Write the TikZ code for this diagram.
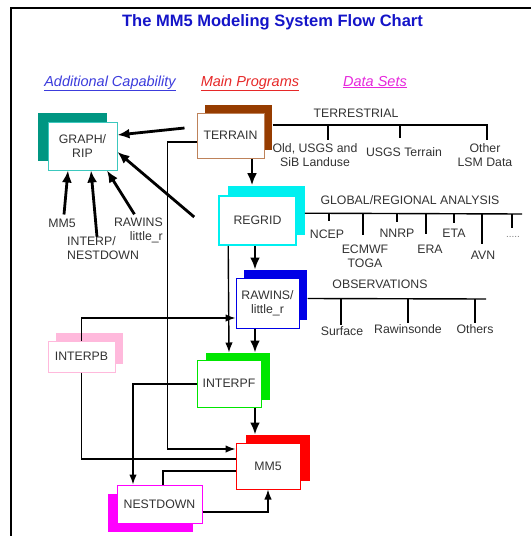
\documentclass[tikz,border=0pt]{standalone}
\usepackage{fontspec}
\setmainfont{Liberation Sans}
\usetikzlibrary{shadows,arrows.meta,calc}
\definecolor{tealc}{RGB}{0,150,130}
\definecolor{tealb}{RGB}{60,200,190}
\definecolor{brownc}{RGB}{150,60,0}
\definecolor{brownb}{RGB}{190,130,90}
\definecolor{cyanc}{RGB}{0,240,240}
\definecolor{bluec}{RGB}{0,0,230}
\definecolor{greenc}{RGB}{0,230,0}
\definecolor{pinkc}{RGB}{255,185,220}
\definecolor{redc}{RGB}{255,0,0}
\definecolor{magc}{RGB}{255,0,255}
\definecolor{titlec}{RGB}{20,20,200}
\definecolor{legblue}{RGB}{60,60,220}
\definecolor{legred}{RGB}{230,40,40}
\definecolor{legmag}{RGB}{230,40,220}
\definecolor{txt}{RGB}{50,50,50}
\begin{document}
\begin{tikzpicture}[x=1pt,y=-1pt,
  every node/.style={font=\fontsize{12.3}{14}\selectfont, text=txt, inner sep=0pt, align=center},
  prog/.style={draw, fill=white, line width=1pt},
  thk/.style={line width=2.8pt, -{Latex[length=12pt,width=10pt]}},
  thn/.style={line width=1.4pt, -{Latex[length=10pt,width=7.5pt]}},
  thnl/.style={line width=1.4pt},
  bus/.style={line width=1.4pt},
  leg/.style={font=\fontsize{14.5}{16}\selectfont\itshape, anchor=base},
]
\useasboundingbox (0,0) rectangle (531,536);
% frame
\draw[line width=2pt] (11,536) -- (11,8) -- (531,8);
% title and legend
\node[font=\fontsize{16.5}{18}\selectfont\bfseries, text=titlec] (title) at (272.5,22) {The MM5 Modeling System Flow Chart};
\node[leg, text=legblue] (lad) at (110,86) {\underline{Additional Capability}};
\node[leg, text=legred] (lmp) at (250,86) {\underline{Main Programs}};
\node[leg, text=legmag] (lds) at (375,86) {\underline{Data Sets}};

% program boxes
\node[prog, draw=tealb, minimum width=69pt, minimum height=48pt,
  general shadow={fill=tealc, draw=none, shadow xshift=-10pt, shadow yshift=9pt}] (graph) at (82.5,146) {GRAPH/\\RIP};
\node[prog, draw=brownb, minimum width=67pt, minimum height=45pt,
  general shadow={fill=brownc, draw=none, shadow xshift=8pt, shadow yshift=8pt}] (terrain) at (230.5,135.5) {TERRAIN};
\node[prog, draw=cyanc, line width=1.6pt, minimum width=77pt, minimum height=49pt,
  general shadow={fill=cyanc, draw=none, shadow xshift=9pt, shadow yshift=10pt}] (regrid) at (257.5,220.5) {REGRID};
\node[prog, draw=bluec, minimum width=63pt, minimum height=50pt,
  general shadow={fill=bluec, draw=none, shadow xshift=8pt, shadow yshift=8pt}] (rawins) at (267.5,303) {RAWINS/\\little\_r};
\node[prog, draw=greenc, minimum width=64pt, minimum height=47pt,
  general shadow={fill=greenc, draw=none, shadow xshift=9pt, shadow yshift=7pt}] (interpf) at (229,383.5) {INTERPF};
\node[prog, draw=pinkc, minimum width=67pt, minimum height=31pt,
  general shadow={fill=pinkc, draw=none, shadow xshift=8pt, shadow yshift=8pt}] (interpb) at (81.5,356.5) {INTERPB};
\node[prog, draw=redc, minimum width=64pt, minimum height=46pt,
  general shadow={fill=redc, draw=none, shadow xshift=10pt, shadow yshift=8pt}] (mm5) at (268,466) {MM5};
\node[prog, draw=magc, minimum width=85pt, minimum height=38pt,
  general shadow={fill=magc, draw=none, shadow xshift=-9pt, shadow yshift=-9pt}] (nest) at (159.5,504) {NESTDOWN};

% labels under GRAPH/RIP
\node (lmm5) at (62,223) {MM5};
\node[anchor=west, align=left] (linterp) at (67,248.5) {INTERP/\\NESTDOWN};
\node[anchor=east, align=right] (lrawins) at (163,230) {RAWINS\\little\_r};

% terrestrial data
\node (terr) at (356,113) {TERRESTRIAL};
\node (d1) at (315,155.5) {Old, USGS and\\SiB Landuse};
\node (d2) at (404,152) {USGS Terrain};
\node (d3) at (485,155) {Other\\LSM Data};
\draw[bus] ($(terrain.north east)+(8,12.5)$) -- (488,125);
\draw[bus] (328,125) -- (328,140);
\draw[bus] (400,125) -- (400,138);
\draw[bus] (487,125) -- (487,140);

% global / regional analysis
\node (glob) at (410,200) {GLOBAL/REGIONAL ANALYSIS};
\node (g1) at (327,234) {NCEP};
\node (g2) at (365,256) {ECMWF\\TOGA};
\node (g3) at (397,233) {NNRP};
\node (g4) at (430,249) {ERA};
\node (g5) at (454,233) {ETA};
\node (g6) at (483,255) {AVN};
\node[font=\fontsize{10}{11}\selectfont, text=black!50] (g7) at (513,237) {.....};
\draw[bus] ($(regrid.north east)+(8,18)$) -- (522,214);
\draw[bus] (329,214) -- (329,221);
\draw[bus] (363,214) -- (363,235);
\draw[bus] (397,214) -- (397,222);
\draw[bus] (426,214) -- (426,234);
\draw[bus] (454,214) -- (454,223);
\draw[bus] (482,214) -- (482,244);
\draw[bus] (512,214) -- (512,228);

% observations
\node (obs) at (380,284) {OBSERVATIONS};
\node (o1) at (342,331) {Surface};
\node (o2) at (408,329) {Rawinsonde};
\node (o3) at (475,329) {Others};
\draw[bus] ($(rawins.north east)+(8,21)$) -- (486,299);
\draw[bus] (341,299) -- (341,325);
\draw[bus] (408,299) -- (408,323);
\draw[bus] (475,299) -- (475,323);

% thick connectors
\draw[thk] ($(terrain.west)+(-12,-7.5)$) -- ($(graph.east)+(0,-11)$);
\draw[thk] ($(regrid.west)+(-24,-3.5)$) -- ($(graph.east)+(0,6)$);
\draw[thk] ($(lmm5.north)+(2,-4)$) -- ($(graph.south)+(-14.5,0)$);
\draw[thk] ($(linterp.north west)+(30,0)$) -- ($(graph.south)+(8.5,0)$);
\draw[thk] ($(lrawins.north)+(-4,-3)$) -- ($(graph.south)+(24.5,0)$);
\draw[thk] ($(terrain.south)+(21.5,0)$) -- ($(regrid.north)+(-5.5,-10)$);
\draw[thk] ($(regrid.south)+(-2.5,0)$) -- ($(rawins.north)+(-12.5,-8)$);
\draw[thk] ($(rawins.south)+(-12.5,0)$) -- ($(interpf.north)+(26,-7)$);
\draw[thk] ($(interpf.south)+(26,0)$) -- ($(mm5.north)+(-13,-8)$);

% thin connectors
\draw[thn] ($(terrain.west)+(0,6.5)$) -- ++(-29,0) |- ($(mm5.west)+(0,-17)$);
\draw[thn] ($(regrid.south west)+(10,0)$) -- ($(interpf.north)+(0,-7)$);
\draw[thn] (interpb.north) |- ($(rawins.west)+(0,15)$);
\draw[thn] ($(interpf.west)+(0,0.5)$) -| ($(nest.north)+(-26.5,0)$);
\draw[thnl] (interpb.south) |- ($(mm5.west)+(0,-7)$);
\draw[thnl] ($(mm5.west)+(0,5)$) -| ($(nest.north)+(3.5,0)$);
\draw[thn] ($(nest.east)+(0,8)$) -| (mm5.south);
\end{tikzpicture}
\end{document}
